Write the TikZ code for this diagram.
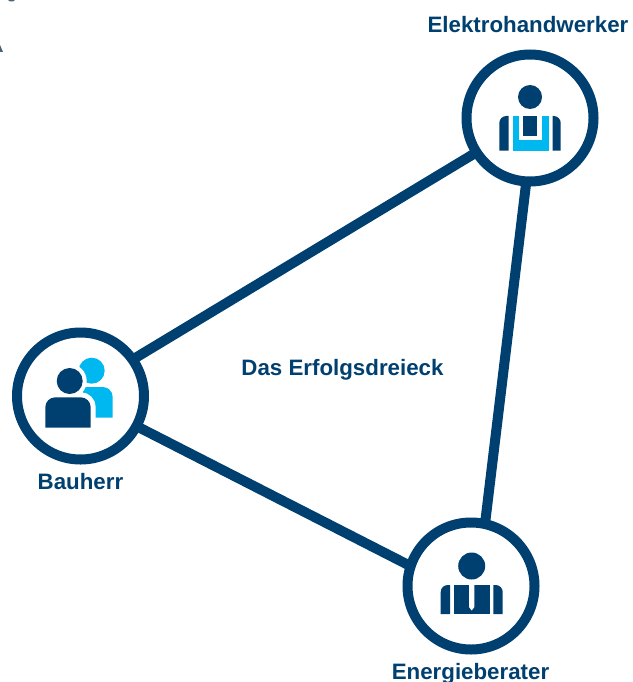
\documentclass[tikz,border=0pt]{standalone}
\usepackage{fontspec}
\setmainfont{Liberation Sans}
\usetikzlibrary{backgrounds}
\definecolor{navy}{HTML}{004070}
\definecolor{sky}{HTML}{00B8F0}
\tikzset{
  ring/.style={circle,draw=navy,line width=10pt,fill=white,minimum size=127pt,inner sep=0pt},
  link/.style={draw=navy,line width=10pt},
  lbl/.style={font=\fontsize{22.3}{26}\selectfont\bfseries,text=navy,inner sep=0pt,anchor=center},
  dark/.style={fill=navy,draw=none},
  light/.style={fill=sky,draw=none},
}
\begin{document}
\begin{tikzpicture}[x=1pt,y=-1pt]
\useasboundingbox (0,0) rectangle (632,682);
% rings
\node[ring] (top) at (530,118) {};
\node[ring] (left) at (80.5,396) {};
\node[ring] (bot) at (471,586) {};
% connectors
\begin{scope}[on background layer]
\fill[white] (0,0) rectangle (632,682);
\draw[link] ([yshift=5pt]left.center) -- ([yshift=-2pt]top.center);
\draw[link] ([yshift=-1.5pt]left.center) -- ([yshift=-11pt]bot.center);
\draw[link] ([xshift=4pt]top.center) -- ([xshift=6.5pt]bot.center);
\end{scope}
% labels
\node[lbl] (l1) at (528,25) {Elektrohandwerker};
\node[lbl] (l2) at (342.5,370) {Das Erfolgsdreieck};
\node[lbl] (l3) at (80.5,481.5) {Bauherr};
\node[lbl] (l4) at (470.5,674) {Energieberater};
% worker icon
\fill[dark] (530,97) circle (12);
\fill[dark] (499.3,150.7) -- (499.3,123) arc[start angle=180,end angle=90,radius=7pt] -- (508.7,116) -- (508.7,150.7) -- cycle;
\fill[dark] (560.7,150.7) -- (560.7,123) arc[start angle=0,end angle=90,radius=7pt] -- (552.7,116) -- (552.7,150.7) -- cycle;
\fill[light] (512.7,116) rectangle (548.7,150.7);
\fill[white] (519.3,116) rectangle (542,140);
\fill[dark] (523,116) rectangle (537,136);
% client icon
\fill[light] (91.7,370.7) circle (13);
\fill[light] (83,387) -- (102.7,387) arc[start angle=90,end angle=0,radius=10pt] -- (112.7,417.7) -- (83,417.7) -- cycle;
\fill[white] (69.7,381) circle (17);
\path[dark,draw=white,line width=10pt] (45.3,427.7) -- (45.3,407.3) arc[start angle=180,end angle=90,radius=10pt] -- (80.7,397.3) arc[start angle=90,end angle=0,radius=10pt] -- (90.7,427.7) -- cycle;
\fill[dark] (45.3,427.7) -- (45.3,407.3) arc[start angle=180,end angle=90,radius=10pt] -- (80.7,397.3) arc[start angle=90,end angle=0,radius=10pt] -- (90.7,427.7) -- cycle;
\fill[dark] (69.7,381) circle (13);
% advisor icon
\fill[dark] (471.7,566) circle (13.5);
\fill[dark] (440.7,614) -- (440.7,592) arc[start angle=180,end angle=90,radius=7pt] -- (450,585) -- (450,614) -- cycle;
\fill[dark] (502.7,614) -- (502.7,592) arc[start angle=0,end angle=90,radius=7pt] -- (493.3,585) -- (493.3,614) -- cycle;
\fill[dark] (454.3,585) rectangle (490,614);
\fill[white] (469,585) -- (474.4,585) -- (474.4,607) -- (471.7,610.5) -- (469,607) -- cycle;
% cropped fragments at the edge
\fill[navy!50!black!70] (8,0) -- (15,0) -- (13,1.5) -- (10,1.5) -- cycle;
\fill[navy!50!black!70] (0,45) -- (3,52) -- (0,52) -- cycle;
\end{tikzpicture}
\end{document}
